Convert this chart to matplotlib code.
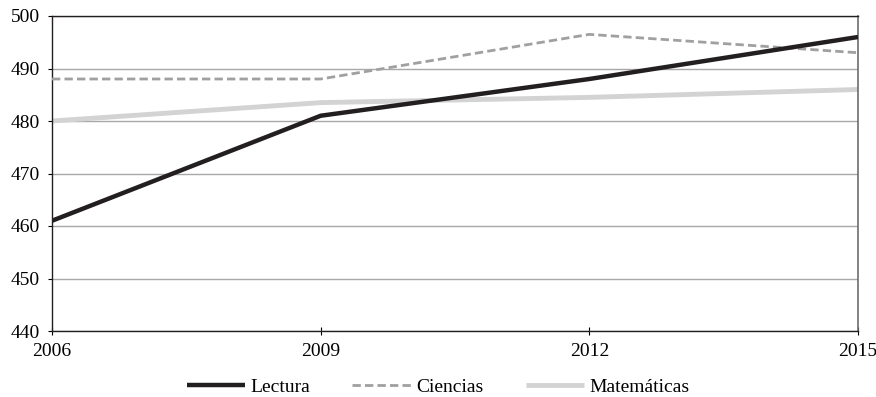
import matplotlib
matplotlib.use('Agg')
import matplotlib.pyplot as plt

years = [2006, 2009, 2012, 2015]
lectura = [461, 481, 488, 496]
ciencias = [488, 488, 496.5, 493]
matematicas = [480, 483.5, 484.5, 486]
yticks = [440, 450, 460, 470, 480, 490, 500]

plt.rcParams['font.family'] = ['Liberation Serif', 'DejaVu Serif']
plt.rcParams['font.size'] = 14

fig = plt.figure(figsize=(8.76, 3.97), dpi=100)
ax = fig.add_axes([52/876, 1 - 331/397, (858 - 52)/876, (331 - 16)/397])

ax.plot(years, lectura, color='#231f20', lw=3.2, label='Lectura', zorder=4, solid_capstyle='butt')
ax.plot(years, ciencias, color='#a0a0a3', lw=2, ls=(0, (3, 1.5)), label='Ciencias', zorder=3)
ax.plot(years, matematicas, color='#d3d3d4', lw=3.5, label='Matemáticas', zorder=2, solid_capstyle='butt')

ax.set_xlim(2006, 2015)
ax.set_ylim(440, 500)
ax.set_xticks(years)
ax.set_yticks(yticks)
ax.grid(axis='y', color='#a8a8a8', lw=1)
ax.set_axisbelow(True)
for s in ['left', 'bottom', 'top']:
    ax.spines[s].set_color('#231f20')
    ax.spines[s].set_linewidth(1)
ax.spines['right'].set_color('#6d6d6d')
ax.spines['right'].set_linewidth(1.2)
ax.tick_params(axis='y', direction='out', length=3, pad=6, labelsize=14)
ax.tick_params(axis='x', direction='inout', length=6, pad=6, labelsize=14)

fig.legend(loc='lower center', bbox_to_anchor=(438/876, 0.002), ncol=3, frameon=False,
           handlelength=3.0, handletextpad=0.26, columnspacing=2.2, fontsize=14,
           borderpad=0, borderaxespad=0)

fig.savefig('out.png', dpi=100)
